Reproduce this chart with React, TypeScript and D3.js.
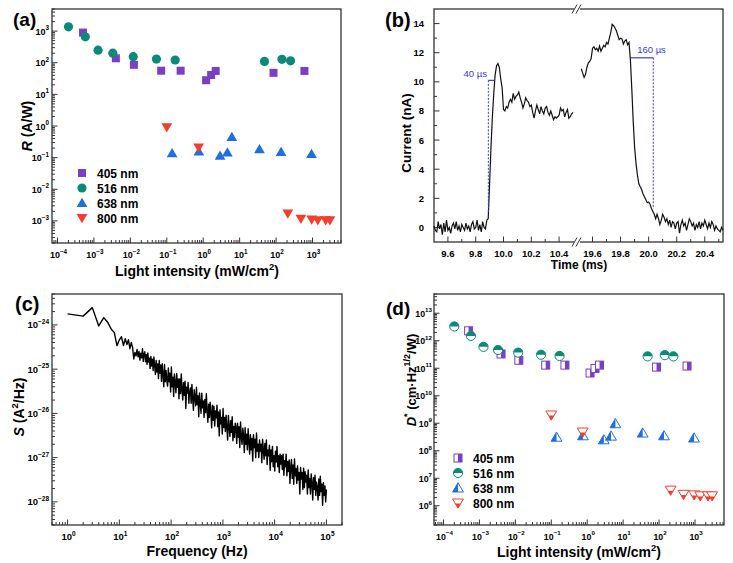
import React from 'react'
import * as d3 from 'd3'

const FONT = '"Liberation Sans", Arial, Helvetica, sans-serif'

// light intensity (mW/cm2) for each wavelength, shared by (a) and (d)
const int405 = [5e-4, 4e-3, 0.0125, 0.07, 0.24, 1.2, 1.65, 2.2, 85, 600]
const int516 = [2e-4, 5.8e-4, 1.3e-3, 3.3e-3, 0.012, 0.052, 0.17, 48, 145, 250]
const int638 = [0.14, 0.76, 2.9, 4.6, 6.1, 35, 137, 940]
const int800 = [0.1, 0.75, 210, 480, 950, 1400, 2300, 3000]

// (a) responsivity R (A/W)
const r405 = [900, 138, 86, 56, 56, 28, 41, 55, 48, 55]
const r516 = [1370, 660, 250, 200, 155, 131, 122, 110, 128, 115]
const r638 = [0.137, 0.155, 0.115, 0.145, 0.45, 0.185, 0.15, 0.13]
const r800 = [0.91, 0.21, 0.0017, 0.00117, 0.0011, 0.00105, 0.00105, 0.00105]

// (d) detectivity D* (Jones)
const d405 = [2.3e12, 3.3e11, 1.95e11, 1.3e11, 1.3e11, 6.7e10, 9.8e10, 1.3e11, 1.1e11, 1.2e11]
const d516 = [3.3e12, 1.5e12, 6.0e11, 4.6e11, 3.7e11, 3.1e11, 2.8e11, 2.7e11, 3.0e11, 2.7e11]
const d638 = [3.1e8, 3.5e8, 2.5e8, 3.4e8, 9.6e8, 4.4e8, 3.5e8, 2.9e8]
const d800 = [2.0e9, 4.8e8, 3.7e6, 2.6e6, 2.5e6, 2.3e6, 2.3e6, 2.3e6]

const waveLabels = ['405 nm', '516 nm', '638 nm', '800 nm']
const waveColors = ['#7a3fc2', '#0b8a79', '#1f6fe0', '#f43e2c']
const waveShapes = ['square', 'circle', 'up', 'down']

// (b) transient current (nA), sampled every 0.01 ms
const curLeftStart = 9.5
const curLeft = [
  0.1, -0.2, -0.3, 0.4, -0.1, 0.2, -0.5, 0.3, -0.3, 0.5, -0.2, 0.0, -0.4, 0.1, 0.3, -0.1, 0.4, -0.2, 0.1, -0.3,
  0.2, 0.0, -0.2, 0.3, -0.1, 0.1, -0.3, 0.2, 0.4, -0.1, 0.0, 0.5, -0.2, 0.2, -0.3, 0.4, 0.0, -0.1, 0.5,
  0.6, 3.0, 5.5, 7.6, 9.2, 10.5, 11.1, 11.25, 11.0, 10.2,
  9.6, 8.1, 8.0, 8.3, 8.2, 8.6, 8.8, 8.6, 9.2, 8.8,
  9.0, 9.1, 9.3, 8.9, 8.6, 8.2, 8.5, 8.9, 8.7, 8.6,
  8.3, 8.4, 7.9, 7.5, 8.0, 8.4, 8.1, 7.8, 8.3, 8.0,
  7.8, 8.2, 8.3, 7.9, 7.7, 8.0, 7.7, 7.4, 7.6, 7.5,
  7.6, 7.7, 8.2, 8.0, 8.1, 7.6, 7.9, 8.1, 7.5, 7.6,
  7.8, 7.9,
]
const curRightStart = 19.52
const curRight = [
  10.9, 10.6, 10.3, 10.5, 11.0, 11.3, 11.4, 11.6, 12.3, 12.4,
  12.2, 12.3, 12.1, 12.45, 12.1, 12.3, 12.5, 12.4, 12.7, 12.6,
  13.0, 13.4, 13.95, 13.85, 13.7, 13.5, 13.2, 12.9, 13.0, 12.95,
  12.6, 12.8, 12.9, 12.55, 12.7, 11.5, 9.5, 7.3, 5.5, 4.4,
  3.6, 3.0, 2.8, 2.6, 2.3, 2.1, 1.9, 1.7, 1.75, 1.6,
  1.3, 1.1, 0.9, 0.6, 0.9, 0.6, 0.2, 0.5, 0.9, 0.7,
  0.4, 0.6, 0.2, 0.5, 0.0, 0.4, 0.3, -0.1, 0.3, 0.4,
  -0.4, 0.2, 0.5, 0.1, 0.3, -0.2, 0.2, 0.6, 0.4, 0.1,
  0.3, -0.2, 0.2, 0.0, 0.4, -0.1, 0.3, 0.1, 0.5, 0.2,
  -0.1, 0.3, 0.0, 0.4, 0.2, -0.2, 0.1, -0.1, -0.2, -0.3, 0.0, -0.2,
]

// (c) noise spectrum S (A2/Hz): 1..30 Hz bins
const sLow = [
  1.78e-24, 1.58e-24, 2.46e-24, 0.95e-24, 1.46e-24, 1.13e-24, 0.8e-24, 0.67e-24, 3.4e-25, 4.6e-25,
  5.4e-25, 3.4e-25, 4.9e-25, 3.6e-25, 4.6e-25, 2.9e-25, 4.0e-25, 3.1e-25, 1.7e-25, 2.4e-25,
  2.0e-25, 2.8e-25, 1.9e-25, 2.5e-25, 1.6e-25, 2.3e-25, 1.8e-25, 2.9e-25, 1.5e-25, 2.2e-25,
]
// 31 Hz .. 100 kHz, log-spaced bins, in units of 1e-28 A2/Hz
const sDenseFrom = 31
const sDenseTo = 1e5
const sDense = [
  2470, 1470, 2130, 1280, 2320, 1440, 1770, 1040, 1940, 1180, 1680, 930, 1880, 1210, 760, 1580, 870, 1320, 610, 1570, 810, 1240, 530, 1330, 790, 400, 1270, 520, 940, 560,
  414, 1070, 518, 815, 304, 1120, 399, 662, 241, 777, 502, 292, 801, 388, 597, 215, 602, 281, 780, 340, 201, 496, 257, 533, 129, 390, 288, 498, 170, 303,
  378, 170, 454, 220, 118, 342, 243, 149, 391, 159, 251, 84, 288, 174, 101, 285, 134, 190, 81, 206, 104, 279, 116, 63, 162, 81, 179, 104, 47, 153,
  70, 145, 52, 114, 79, 154, 50, 108, 31, 120, 58, 81, 34, 129, 48, 81, 39, 91, 48, 25, 90, 51, 30, 68, 37, 84, 24, 51, 29, 60,
  48, 21, 60, 29, 50, 17, 64, 29, 20, 46, 31, 13, 48, 20, 34, 15, 45, 23, 12, 33, 15, 27, 8.4, 33, 17, 26, 10, 36, 14, 20,
  10, 25, 14, 20, 7.7, 26, 15, 9.2, 21, 11, 25, 7.0, 15, 11, 19, 5.2, 15, 8.2, 18, 6.2, 11, 5.0, 14, 8.0, 18, 6.2, 11, 4.6, 12, 7.2,
  11, 5.4, 12, 4.0, 8.5, 6.2, 12, 3.9, 8.2, 4.9, 8.9, 2.6, 6.1, 9.1, 3.4, 6.8, 2.5, 9.3, 3.9, 5.6, 2.6, 6.5, 3.1, 4.6, 1.5, 6.0, 3.3, 4.6, 1.9, 5.8,
  2.1, 4.8, 2.8, 4.0, 1.5, 5.3, 2.1, 3.4, 1.5, 4.3, 2.6, 1.1, 3.5, 1.9, 4.0, 1.4, 2.8, 2.1, 1.1, 3.3, 1.4, 3.8, 1.7, 2.5, 0.84, 2.7, 1.4, 2.3, 1.0, 1.9,
]

const MINUS = '\u2212'

function logTicks(domain) {
  const [lo, hi] = domain
  const major = []
  const minor = []
  for (let e = Math.floor(Math.log10(lo)); e <= Math.ceil(Math.log10(hi)); e++) {
    for (let m = 1; m < 10; m++) {
      const v = m * Math.pow(10, e)
      if (v < lo * 0.999 || v > hi * 1.001) continue
      if (m === 1) major.push(e)
      else minor.push(v)
    }
  }
  return { major, minor }
}

function Pow({ x, y, e, anchor, fs = 9, ss = 6.3 }) {
  return (
    <text x={x} y={y} textAnchor={anchor} fontSize={fs} fontWeight="bold">
      10
      <tspan dy={-4.5} fontSize={ss}>
        {e < 0 ? MINUS + Math.abs(e) : String(e)}
      </tspan>
    </text>
  )
}

function LogFrame({ x, y, xLabelY, yLabelX, fs = 9, ss = 6.3 }) {
  const [x0, x1] = x.range()
  const [yb, yt] = y.range()
  const xt = logTicks(x.domain())
  const yt2 = logTicks(y.domain())
  return (
    <g>
      <g stroke="#333" strokeWidth={1}>
        {xt.minor.map((v, i) => (
          <line key={'xm' + i} x1={x(v)} x2={x(v)} y1={yb} y2={yb - 3} />
        ))}
        {xt.major.map(e => (
          <line key={'xM' + e} x1={x(Math.pow(10, e))} x2={x(Math.pow(10, e))} y1={yb} y2={yb - 5.5} />
        ))}
        {yt2.minor.map((v, i) => (
          <line key={'ym' + i} x1={x0} x2={x0 + 3} y1={y(v)} y2={y(v)} />
        ))}
        {yt2.major.map(e => (
          <line key={'yM' + e} x1={x0} x2={x0 + 5.5} y1={y(Math.pow(10, e))} y2={y(Math.pow(10, e))} />
        ))}
      </g>
      <rect x={x0} y={yt} width={x1 - x0} height={yb - yt} fill="none" stroke="#333" strokeWidth={1.3} />
      {xt.major.map(e => (
        <Pow key={'xl' + e} x={x(Math.pow(10, e)) + 1} y={xLabelY} e={e} anchor="middle" fs={fs} ss={ss} />
      ))}
      {yt2.major.map(e => (
        <Pow key={'yl' + e} x={yLabelX} y={y(Math.pow(10, e)) + 3.5} e={e} anchor="end" fs={fs} ss={ss} />
      ))}
    </g>
  )
}

function Marker({ shape, cx, cy, color, half }) {
  if (shape === 'square') {
    const s = 8
    if (!half) return <rect x={cx - s / 2} y={cy - s / 2} width={s} height={s} fill={color} />
    return (
      <g>
        <rect x={cx - s / 2} y={cy - s / 2} width={s} height={s} fill="#fff" />
        <rect x={cx} y={cy - s / 2} width={s / 2} height={s} fill={color} />
        <rect x={cx - s / 2} y={cy - s / 2} width={s} height={s} fill="none" stroke={color} strokeWidth={1} />
      </g>
    )
  }
  if (shape === 'circle') {
    const r = 4.6
    if (!half) return <circle cx={cx} cy={cy} r={r} fill={color} />
    return (
      <g>
        <circle cx={cx} cy={cy} r={r} fill="#fff" />
        <path d={`M${cx - r},${cy}A${r},${r} 0 0 1 ${cx + r},${cy}Z`} fill={color} />
        <circle cx={cx} cy={cy} r={r} fill="none" stroke={color} strokeWidth={1} />
      </g>
    )
  }
  if (shape === 'up') {
    const tri = `M${cx},${cy - 5.2}L${cx + 5.4},${cy + 4}L${cx - 5.4},${cy + 4}Z`
    if (!half) return <path d={tri} fill={color} />
    return (
      <g>
        <path d={tri} fill="#fff" />
        <path d={`M${cx},${cy - 5.2}L${cx},${cy + 4}L${cx - 5.4},${cy + 4}Z`} fill={color} />
        <path d={tri} fill="none" stroke={color} strokeWidth={1} />
      </g>
    )
  }
  const tri = `M${cx - 5.4},${cy - 4}L${cx + 5.4},${cy - 4}L${cx},${cy + 5.2}Z`
  if (!half) return <path d={tri} fill={color} />
  return (
    <g>
      <path d={tri} fill="#fff" />
      <path d={`M${cx - 2.7},${cy + 0.6}L${cx + 2.7},${cy + 0.6}L${cx},${cy + 5.2}Z`} fill={color} />
      <path d={tri} fill="none" stroke={color} strokeWidth={1} />
    </g>
  )
}

function Legend({ x, y0, half }) {
  return (
    <g>
      {waveLabels.map((lab, i) => (
        <g key={lab}>
          <Marker shape={waveShapes[i]} cx={x} cy={y0 + i * 15} color={waveColors[i]} half={half} />
          <text x={x + 15} y={y0 + i * 15 + 4.5} fontSize={12} fontWeight="bold">
            {lab}
          </text>
        </g>
      ))}
    </g>
  )
}

function IntensityTitle({ x, y }) {
  return (
    <text x={x} y={y} textAnchor="middle" fontSize={14} fontWeight="bold">
      Light intensity (mW/cm<tspan dy={-6} fontSize={9.5}>2</tspan>
      <tspan dy={6}>)</tspan>
    </text>
  )
}

function PanelA() {
  const x = d3.scaleLog().domain([Math.pow(10, -4.151), Math.pow(10, 3.782)]).range([52, 341])
  const y = d3.scaleLog().domain([2e-4, 5e3]).range([243, 9])
  const sets = [
    [int405, r405],
    [int516, r516],
    [int638, r638],
    [int800, r800],
  ]
  return (
    <g>
      <LogFrame x={x} y={y} xLabelY={258} yLabelX={49} />
      {sets.map(([xs, ys], k) =>
        xs.map((v, i) => (
          <Marker key={k + '-' + i} shape={waveShapes[k]} cx={x(v)} cy={y(ys[i])} color={waveColors[k]} half={false} />
        )),
      )}
      <Legend x={82} y0={173} half={false} />
      <text x={13} y={26} fontSize={19} fontWeight="bold">(a)</text>
      <text transform="translate(32,126) rotate(-90)" textAnchor="middle" fontSize={14} fontWeight="bold">
        <tspan fontStyle="italic">R</tspan> (A/W)
      </text>
      <IntensityTitle x={197} y={275.5} />
    </g>
  )
}

function PanelB() {
  const xL = d3.scaleLinear().domain([9.5, 10.5]).range([434, 573])
  const xR = d3.scaleLinear().domain([19.5, 20.53]).range([578.5, 723])
  const y = d3.scaleLinear().domain([-1, 15]).range([242, 9])
  const blue = '#3a3ade'
  const lineL = d3
    .line()
    .x((d, i) => xL(curLeftStart + i * 0.01))
    .y(d => y(d))
  const lineR = d3
    .line()
    .x((d, i) => xR(curRightStart + i * 0.01))
    .y(d => y(d))
  const majL = [9.6, 9.8, 10.0, 10.2, 10.4]
  const minL = [9.7, 9.9, 10.1, 10.3]
  const majR = [19.6, 19.8, 20.0, 20.2, 20.4]
  const minR = [19.7, 19.9, 20.1, 20.3, 20.5]
  const yMaj = d3.range(0, 15, 2)
  const yMin = d3.range(1, 15, 2)
  const bx = 577
  return (
    <g>
      <g stroke="#333" strokeWidth={1}>
        {majL.map(v => <line key={'a' + v} x1={xL(v)} x2={xL(v)} y1={242} y2={236.5} />)}
        {minL.map(v => <line key={'b' + v} x1={xL(v)} x2={xL(v)} y1={242} y2={239} />)}
        {majR.map(v => <line key={'c' + v} x1={xR(v)} x2={xR(v)} y1={242} y2={236.5} />)}
        {minR.map(v => <line key={'d' + v} x1={xR(v)} x2={xR(v)} y1={242} y2={239} />)}
        {yMaj.map(v => <line key={'e' + v} x1={434} x2={439.5} y1={y(v)} y2={y(v)} />)}
        {yMin.map(v => <line key={'f' + v} x1={434} x2={437} y1={y(v)} y2={y(v)} />)}
      </g>
      <rect x={434} y={9} width={289} height={233} fill="none" stroke="#333" strokeWidth={1.3} />
      {/* axis break */}
      <rect x={bx - 3} y={5} width={6} height={8} fill="#fff" />
      <rect x={bx - 3} y={238} width={6} height={8} fill="#fff" />
      <g stroke="#333" strokeWidth={1}>
        <line x1={bx - 5} y1={13.5} x2={bx} y2={4.5} />
        <line x1={bx - 1} y1={13.5} x2={bx + 4} y2={4.5} />
        <line x1={bx - 5} y1={246.5} x2={bx} y2={237.5} />
        <line x1={bx - 1} y1={246.5} x2={bx + 4} y2={237.5} />
      </g>
      {majL.map(v => (
        <text key={'la' + v} x={xL(v)} y={256.5} textAnchor="middle" fontSize={9.5} fontWeight="bold">
          {v.toFixed(1)}
        </text>
      ))}
      {majR.map(v => (
        <text key={'lb' + v} x={xR(v)} y={256.5} textAnchor="middle" fontSize={9.5} fontWeight="bold">
          {v.toFixed(1)}
        </text>
      ))}
      {yMaj.map(v => (
        <text key={'lc' + v} x={424} y={y(v) + 3.5} textAnchor="end" fontSize={9.5} fontWeight="bold">
          {v}
        </text>
      ))}
      <path d={lineL(curLeft)} fill="none" stroke="#111" strokeWidth={1.2} />
      <path d={lineR(curRight)} fill="none" stroke="#111" strokeWidth={1.2} />
      {/* rise time marker */}
      <line x1={xL(9.891)} x2={xL(9.891)} y1={y(10.1)} y2={y(1.0)} stroke={blue} strokeWidth={1} strokeDasharray="2,1.5" />
      <line x1={xL(9.891)} x2={xL(9.934)} y1={y(10.1)} y2={y(10.1)} stroke={blue} strokeWidth={1.2} />
      <text x={487} y={76.5} textAnchor="end" fontSize={9.5} fill={blue}>40 µs</text>
      {/* decay time marker */}
      <line x1={xR(20.033)} x2={xR(20.033)} y1={y(11.65)} y2={y(1.3)} stroke={blue} strokeWidth={1} strokeDasharray="2,1.5" />
      <line x1={xR(19.873)} x2={xR(20.033)} y1={y(11.65)} y2={y(11.65)} stroke={blue} strokeWidth={1.2} />
      <text x={651.5} y={53} textAnchor="middle" fontSize={9.5} fill={blue}>160 µs</text>
      <text x={385} y={27} fontSize={20} fontWeight="bold">(b)</text>
      <text transform="translate(411,133) rotate(-90)" textAnchor="middle" fontSize={13.5} fontWeight="bold">
        Current (nA)
      </text>
      <text x={579} y={269} textAnchor="middle" fontSize={12} fontWeight="bold">
        Time (ms)
      </text>
    </g>
  )
}

function PanelC() {
  const x = d3.scaleLog().domain([0.5, 2e5]).range([52, 342])
  const y = d3.scaleLog().domain([3e-29, 5e-24]).range([525, 294])
  const step = Math.log10(sDenseTo / sDenseFrom) / (sDense.length - 1)
  const pts = [
    ...sLow.map((s, i) => [i + 1, s]),
    ...sDense.map((s, i) => [sDenseFrom * Math.pow(10, i * step), s * 1e-28]),
  ]
  const line = d3
    .line()
    .x(d => x(d[0]))
    .y(d => y(d[1]))
  return (
    <g>
      <LogFrame x={x} y={y} xLabelY={540} yLabelX={49} fs={9.5} ss={6.5} />
      <path d={line(pts)} fill="none" stroke="#000" strokeWidth={1.4} strokeLinejoin="round" />
      <text x={15} y={311} fontSize={20} fontWeight="bold">(c)</text>
      <text transform="translate(24,407) rotate(-90)" textAnchor="middle" fontSize={14} fontWeight="bold">
        <tspan fontStyle="italic">S</tspan> (A<tspan dy={-6} fontSize={9.5}>2</tspan>
        <tspan dy={6}>/Hz)</tspan>
      </text>
      <text x={197} y={556} textAnchor="middle" fontSize={14} fontWeight="bold">
        Frequency (Hz)
      </text>
    </g>
  )
}

function PanelD() {
  const x = d3.scaleLog().domain([Math.pow(10, -4.264), Math.pow(10, 3.807)]).range([434, 724])
  const y = d3.scaleLog().domain([2e5, 5e13]).range([525, 294])
  const sets = [
    [int405, d405],
    [int516, d516],
    [int638, d638],
    [int800, d800],
  ]
  return (
    <g>
      <LogFrame x={x} y={y} xLabelY={539.5} yLabelX={432} fs={8.8} ss={6.2} />
      {sets.map(([xs, ys], k) =>
        xs.map((v, i) => (
          <Marker key={k + '-' + i} shape={waveShapes[k]} cx={x(v)} cy={y(ys[i])} color={waveColors[k]} half={true} />
        )),
      )}
      <Legend x={458} y0={458} half={true} />
      <text x={386} y={315} fontSize={19} fontWeight="bold">(d)</text>
      <text transform="translate(415.5,380) rotate(-90)" textAnchor="middle" fontSize={13} fontWeight="bold">
        <tspan fontStyle="italic">D</tspan>
        <tspan dy={-6} fontSize={9}>*</tspan>
        <tspan dy={6}> (cm·Hz</tspan>
        <tspan dy={-6} fontSize={9}>1/2</tspan>
        <tspan dy={6}>/W)</tspan>
      </text>
      <IntensityTitle x={579} y={557} />
    </g>
  )
}

export default function App() {
  return (
    <div style={{ position: 'absolute', left: 0, top: 0 }}>
      <svg width={733} height={563} style={{ display: 'block', fontFamily: FONT }}>
        <rect width={733} height={563} fill="#fff" />
        <PanelA />
        <PanelB />
        <PanelC />
        <PanelD />
      </svg>
    </div>
  )
}
